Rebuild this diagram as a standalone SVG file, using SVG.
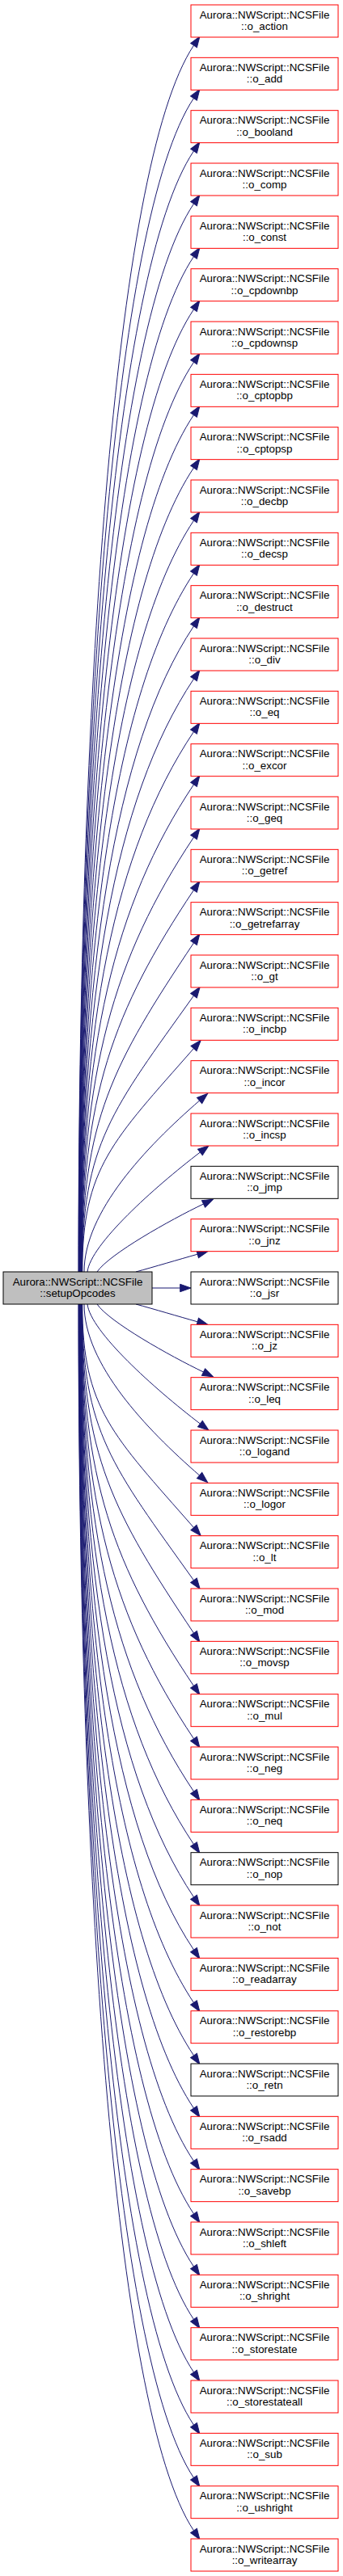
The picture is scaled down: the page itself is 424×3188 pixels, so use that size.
<svg xmlns="http://www.w3.org/2000/svg" width="424" height="3188" viewBox="0 0 424 3188">
<style>
.n rect{fill:#ffffff;stroke:#ff0000;stroke-width:1}
.n.b rect{stroke:#000000}
.n.root rect{fill:#bfbfbf;stroke:#000000}
.n text{font-family:"Liberation Sans",Arial,Helvetica,sans-serif;font-size:13.33px;fill:#000000;text-anchor:middle}
#edges path{fill:none;stroke:#191970;stroke-width:1;marker-end:url(#ah)}
</style>
<defs>
<marker id="ah" markerUnits="userSpaceOnUse" orient="auto" refX="0" refY="0" markerWidth="14" markerHeight="10" overflow="visible">
<path d="M0,-4.7 L13.3,0 L0,4.7 Z" fill="#191970" stroke="#191970" stroke-width="1"/>
</marker>
</defs>
<rect x="0" y="0" width="424" height="3188" fill="#ffffff"/>
<g id="edges">
<path d="M97,1574 C97,886 139.5,206.2 239.5,56.2"/>
<path d="M97.25,1574 C97.25,915.4 139.5,271.5 239.5,121.5"/>
<path d="M97.5,1574 C97.5,944.8 139.5,336.9 239.5,186.9"/>
<path d="M97.75,1574 C97.75,974.2 139.5,402.2 239.5,252.2"/>
<path d="M98,1574 C98,1003.6 139.5,467.5 239.5,317.5"/>
<path d="M98.25,1574 C98.25,1033 139.5,532.9 239.5,382.9"/>
<path d="M98.5,1574 C98.5,1062.4 139.5,598.2 239.5,448.2"/>
<path d="M98.75,1574 C98.75,1091.8 139.5,663.5 239.5,513.5"/>
<path d="M99,1574 C99,1121.2 139.5,728.9 239.5,578.9"/>
<path d="M99.25,1574 C99.25,1150.6 139.5,794.2 239.5,644.2"/>
<path d="M99.5,1574 C99.5,1180 139.5,859.5 239.5,709.5"/>
<path d="M99.75,1574 C99.75,1209.4 139.5,924.9 239.5,774.9"/>
<path d="M100,1574 C100,1238.8 139.5,990.2 239.5,840.2"/>
<path d="M100.25,1574 C100.25,1268.2 139.5,1055.5 239.5,905.5"/>
<path d="M100.5,1574 C100.5,1297.6 139.5,1120.9 239.5,970.9"/>
<path d="M100.75,1574 C100.75,1327 139.5,1186.2 239.5,1036.2"/>
<path d="M101,1574 C101,1356.4 139.5,1251.5 239.5,1101.5"/>
<path d="M101.25,1574 C101.25,1385.8 139.5,1316.9 239.5,1166.9"/>
<path d="M101.5,1574 C101.5,1415.2 139.5,1372.7 239.5,1232.2"/>
<path d="M101.75,1574 C101.75,1444.6 139.5,1411.9 239.5,1297.5"/>
<path d="M104,1574 C104,1500 180,1420 246.6,1362.1"/>
<path d="M108,1574 C112,1540 190,1470 247.4,1426"/>
<path d="M120,1574 C135,1552 210,1510 251.5,1490"/>
<path d="M168,1574 C190,1568 220,1559 244.2,1552.2"/>
<path d="M188,1594 L222.7,1594"/>
<path d="M168,1614 C190,1620 220,1629 244.2,1635.8"/>
<path d="M120,1614 C135,1636 210,1678 251.5,1698"/>
<path d="M108,1614 C112,1648 190,1718 247.4,1762"/>
<path d="M104,1614 C104,1688 180,1768 246.6,1825.9"/>
<path d="M101.75,1614 C101.75,1743.4 139.5,1776.1 239.5,1890.5"/>
<path d="M101.5,1614 C101.5,1772.8 139.5,1815.3 239.5,1955.8"/>
<path d="M101.25,1614 C101.25,1802.2 139.5,1871.1 239.5,2021.1"/>
<path d="M101,1614 C101,1831.6 139.5,1936.5 239.5,2086.5"/>
<path d="M100.75,1614 C100.75,1861 139.5,2001.8 239.5,2151.8"/>
<path d="M100.5,1614 C100.5,1890.4 139.5,2067.1 239.5,2217.1"/>
<path d="M100.25,1614 C100.25,1919.8 139.5,2132.5 239.5,2282.5"/>
<path d="M100,1614 C100,1949.2 139.5,2197.8 239.5,2347.8"/>
<path d="M99.75,1614 C99.75,1978.6 139.5,2263.1 239.5,2413.1"/>
<path d="M99.5,1614 C99.5,2008 139.5,2328.5 239.5,2478.5"/>
<path d="M99.25,1614 C99.25,2037.4 139.5,2393.8 239.5,2543.8"/>
<path d="M99,1614 C99,2066.8 139.5,2459.1 239.5,2609.1"/>
<path d="M98.75,1614 C98.75,2096.2 139.5,2524.5 239.5,2674.5"/>
<path d="M98.5,1614 C98.5,2125.6 139.5,2589.8 239.5,2739.8"/>
<path d="M98.25,1614 C98.25,2155 139.5,2655.1 239.5,2805.1"/>
<path d="M98,1614 C98,2184.4 139.5,2720.5 239.5,2870.5"/>
<path d="M97.75,1614 C97.75,2213.8 139.5,2785.8 239.5,2935.8"/>
<path d="M97.5,1614 C97.5,2243.2 139.5,2851.1 239.5,3001.1"/>
<path d="M97.25,1614 C97.25,2272.6 139.5,2916.5 239.5,3066.5"/>
<path d="M97,1614 C97,2302 139.5,2981.8 239.5,3131.8"/>
</g>
<g id="setupOpcodes" class="n root" transform="translate(0,1574)"><rect x="4" y="0" width="184" height="40"/><text x="96" y="16.8">Aurora::NWScript::NCSFile</text><text x="96" y="31">::setupOpcodes</text></g>
<g id="o_action" class="n" transform="translate(0,6)"><rect x="236" y="0" width="182" height="40"/><text x="327" y="16.8">Aurora::NWScript::NCSFile</text><text x="327" y="31">::o_action</text></g>
<g id="o_add" class="n" transform="translate(0,71.33)"><rect x="236" y="0" width="182" height="40"/><text x="327" y="16.8">Aurora::NWScript::NCSFile</text><text x="327" y="31">::o_add</text></g>
<g id="o_booland" class="n" transform="translate(0,136.67)"><rect x="236" y="0" width="182" height="40"/><text x="327" y="16.8">Aurora::NWScript::NCSFile</text><text x="327" y="31">::o_booland</text></g>
<g id="o_comp" class="n" transform="translate(0,202)"><rect x="236" y="0" width="182" height="40"/><text x="327" y="16.8">Aurora::NWScript::NCSFile</text><text x="327" y="31">::o_comp</text></g>
<g id="o_const" class="n" transform="translate(0,267.33)"><rect x="236" y="0" width="182" height="40"/><text x="327" y="16.8">Aurora::NWScript::NCSFile</text><text x="327" y="31">::o_const</text></g>
<g id="o_cpdownbp" class="n" transform="translate(0,332.67)"><rect x="236" y="0" width="182" height="40"/><text x="327" y="16.8">Aurora::NWScript::NCSFile</text><text x="327" y="31">::o_cpdownbp</text></g>
<g id="o_cpdownsp" class="n" transform="translate(0,398)"><rect x="236" y="0" width="182" height="40"/><text x="327" y="16.8">Aurora::NWScript::NCSFile</text><text x="327" y="31">::o_cpdownsp</text></g>
<g id="o_cptopbp" class="n" transform="translate(0,463.33)"><rect x="236" y="0" width="182" height="40"/><text x="327" y="16.8">Aurora::NWScript::NCSFile</text><text x="327" y="31">::o_cptopbp</text></g>
<g id="o_cptopsp" class="n" transform="translate(0,528.67)"><rect x="236" y="0" width="182" height="40"/><text x="327" y="16.8">Aurora::NWScript::NCSFile</text><text x="327" y="31">::o_cptopsp</text></g>
<g id="o_decbp" class="n" transform="translate(0,594)"><rect x="236" y="0" width="182" height="40"/><text x="327" y="16.8">Aurora::NWScript::NCSFile</text><text x="327" y="31">::o_decbp</text></g>
<g id="o_decsp" class="n" transform="translate(0,659.33)"><rect x="236" y="0" width="182" height="40"/><text x="327" y="16.8">Aurora::NWScript::NCSFile</text><text x="327" y="31">::o_decsp</text></g>
<g id="o_destruct" class="n" transform="translate(0,724.67)"><rect x="236" y="0" width="182" height="40"/><text x="327" y="16.8">Aurora::NWScript::NCSFile</text><text x="327" y="31">::o_destruct</text></g>
<g id="o_div" class="n" transform="translate(0,790)"><rect x="236" y="0" width="182" height="40"/><text x="327" y="16.8">Aurora::NWScript::NCSFile</text><text x="327" y="31">::o_div</text></g>
<g id="o_eq" class="n" transform="translate(0,855.33)"><rect x="236" y="0" width="182" height="40"/><text x="327" y="16.8">Aurora::NWScript::NCSFile</text><text x="327" y="31">::o_eq</text></g>
<g id="o_excor" class="n" transform="translate(0,920.67)"><rect x="236" y="0" width="182" height="40"/><text x="327" y="16.8">Aurora::NWScript::NCSFile</text><text x="327" y="31">::o_excor</text></g>
<g id="o_geq" class="n" transform="translate(0,986)"><rect x="236" y="0" width="182" height="40"/><text x="327" y="16.8">Aurora::NWScript::NCSFile</text><text x="327" y="31">::o_geq</text></g>
<g id="o_getref" class="n" transform="translate(0,1051.33)"><rect x="236" y="0" width="182" height="40"/><text x="327" y="16.8">Aurora::NWScript::NCSFile</text><text x="327" y="31">::o_getref</text></g>
<g id="o_getrefarray" class="n" transform="translate(0,1116.67)"><rect x="236" y="0" width="182" height="40"/><text x="327" y="16.8">Aurora::NWScript::NCSFile</text><text x="327" y="31">::o_getrefarray</text></g>
<g id="o_gt" class="n" transform="translate(0,1182)"><rect x="236" y="0" width="182" height="40"/><text x="327" y="16.8">Aurora::NWScript::NCSFile</text><text x="327" y="31">::o_gt</text></g>
<g id="o_incbp" class="n" transform="translate(0,1247.33)"><rect x="236" y="0" width="182" height="40"/><text x="327" y="16.8">Aurora::NWScript::NCSFile</text><text x="327" y="31">::o_incbp</text></g>
<g id="o_incor" class="n" transform="translate(0,1312.67)"><rect x="236" y="0" width="182" height="40"/><text x="327" y="16.8">Aurora::NWScript::NCSFile</text><text x="327" y="31">::o_incor</text></g>
<g id="o_incsp" class="n" transform="translate(0,1378)"><rect x="236" y="0" width="182" height="40"/><text x="327" y="16.8">Aurora::NWScript::NCSFile</text><text x="327" y="31">::o_incsp</text></g>
<g id="o_jmp" class="n b" transform="translate(0,1443.33)"><rect x="236" y="0" width="182" height="40"/><text x="327" y="16.8">Aurora::NWScript::NCSFile</text><text x="327" y="31">::o_jmp</text></g>
<g id="o_jnz" class="n" transform="translate(0,1508.67)"><rect x="236" y="0" width="182" height="40"/><text x="327" y="16.8">Aurora::NWScript::NCSFile</text><text x="327" y="31">::o_jnz</text></g>
<g id="o_jsr" class="n b" transform="translate(0,1574)"><rect x="236" y="0" width="182" height="40"/><text x="327" y="16.8">Aurora::NWScript::NCSFile</text><text x="327" y="31">::o_jsr</text></g>
<g id="o_jz" class="n" transform="translate(0,1639.33)"><rect x="236" y="0" width="182" height="40"/><text x="327" y="16.8">Aurora::NWScript::NCSFile</text><text x="327" y="31">::o_jz</text></g>
<g id="o_leq" class="n" transform="translate(0,1704.67)"><rect x="236" y="0" width="182" height="40"/><text x="327" y="16.8">Aurora::NWScript::NCSFile</text><text x="327" y="31">::o_leq</text></g>
<g id="o_logand" class="n" transform="translate(0,1770)"><rect x="236" y="0" width="182" height="40"/><text x="327" y="16.8">Aurora::NWScript::NCSFile</text><text x="327" y="31">::o_logand</text></g>
<g id="o_logor" class="n" transform="translate(0,1835.33)"><rect x="236" y="0" width="182" height="40"/><text x="327" y="16.8">Aurora::NWScript::NCSFile</text><text x="327" y="31">::o_logor</text></g>
<g id="o_lt" class="n" transform="translate(0,1900.67)"><rect x="236" y="0" width="182" height="40"/><text x="327" y="16.8">Aurora::NWScript::NCSFile</text><text x="327" y="31">::o_lt</text></g>
<g id="o_mod" class="n" transform="translate(0,1966)"><rect x="236" y="0" width="182" height="40"/><text x="327" y="16.8">Aurora::NWScript::NCSFile</text><text x="327" y="31">::o_mod</text></g>
<g id="o_movsp" class="n" transform="translate(0,2031.33)"><rect x="236" y="0" width="182" height="40"/><text x="327" y="16.8">Aurora::NWScript::NCSFile</text><text x="327" y="31">::o_movsp</text></g>
<g id="o_mul" class="n" transform="translate(0,2096.67)"><rect x="236" y="0" width="182" height="40"/><text x="327" y="16.8">Aurora::NWScript::NCSFile</text><text x="327" y="31">::o_mul</text></g>
<g id="o_neg" class="n" transform="translate(0,2162)"><rect x="236" y="0" width="182" height="40"/><text x="327" y="16.8">Aurora::NWScript::NCSFile</text><text x="327" y="31">::o_neg</text></g>
<g id="o_neq" class="n" transform="translate(0,2227.33)"><rect x="236" y="0" width="182" height="40"/><text x="327" y="16.8">Aurora::NWScript::NCSFile</text><text x="327" y="31">::o_neq</text></g>
<g id="o_nop" class="n b" transform="translate(0,2292.67)"><rect x="236" y="0" width="182" height="40"/><text x="327" y="16.8">Aurora::NWScript::NCSFile</text><text x="327" y="31">::o_nop</text></g>
<g id="o_not" class="n" transform="translate(0,2358)"><rect x="236" y="0" width="182" height="40"/><text x="327" y="16.8">Aurora::NWScript::NCSFile</text><text x="327" y="31">::o_not</text></g>
<g id="o_readarray" class="n" transform="translate(0,2423.33)"><rect x="236" y="0" width="182" height="40"/><text x="327" y="16.8">Aurora::NWScript::NCSFile</text><text x="327" y="31">::o_readarray</text></g>
<g id="o_restorebp" class="n" transform="translate(0,2488.67)"><rect x="236" y="0" width="182" height="40"/><text x="327" y="16.8">Aurora::NWScript::NCSFile</text><text x="327" y="31">::o_restorebp</text></g>
<g id="o_retn" class="n b" transform="translate(0,2554)"><rect x="236" y="0" width="182" height="40"/><text x="327" y="16.8">Aurora::NWScript::NCSFile</text><text x="327" y="31">::o_retn</text></g>
<g id="o_rsadd" class="n" transform="translate(0,2619.33)"><rect x="236" y="0" width="182" height="40"/><text x="327" y="16.8">Aurora::NWScript::NCSFile</text><text x="327" y="31">::o_rsadd</text></g>
<g id="o_savebp" class="n" transform="translate(0,2684.67)"><rect x="236" y="0" width="182" height="40"/><text x="327" y="16.8">Aurora::NWScript::NCSFile</text><text x="327" y="31">::o_savebp</text></g>
<g id="o_shleft" class="n" transform="translate(0,2750)"><rect x="236" y="0" width="182" height="40"/><text x="327" y="16.8">Aurora::NWScript::NCSFile</text><text x="327" y="31">::o_shleft</text></g>
<g id="o_shright" class="n" transform="translate(0,2815.33)"><rect x="236" y="0" width="182" height="40"/><text x="327" y="16.8">Aurora::NWScript::NCSFile</text><text x="327" y="31">::o_shright</text></g>
<g id="o_storestate" class="n" transform="translate(0,2880.67)"><rect x="236" y="0" width="182" height="40"/><text x="327" y="16.8">Aurora::NWScript::NCSFile</text><text x="327" y="31">::o_storestate</text></g>
<g id="o_storestateall" class="n" transform="translate(0,2946)"><rect x="236" y="0" width="182" height="40"/><text x="327" y="16.8">Aurora::NWScript::NCSFile</text><text x="327" y="31">::o_storestateall</text></g>
<g id="o_sub" class="n" transform="translate(0,3011.33)"><rect x="236" y="0" width="182" height="40"/><text x="327" y="16.8">Aurora::NWScript::NCSFile</text><text x="327" y="31">::o_sub</text></g>
<g id="o_ushright" class="n" transform="translate(0,3076.67)"><rect x="236" y="0" width="182" height="40"/><text x="327" y="16.8">Aurora::NWScript::NCSFile</text><text x="327" y="31">::o_ushright</text></g>
<g id="o_writearray" class="n" transform="translate(0,3142)"><rect x="236" y="0" width="182" height="40"/><text x="327" y="16.8">Aurora::NWScript::NCSFile</text><text x="327" y="31">::o_writearray</text></g>
</svg>
